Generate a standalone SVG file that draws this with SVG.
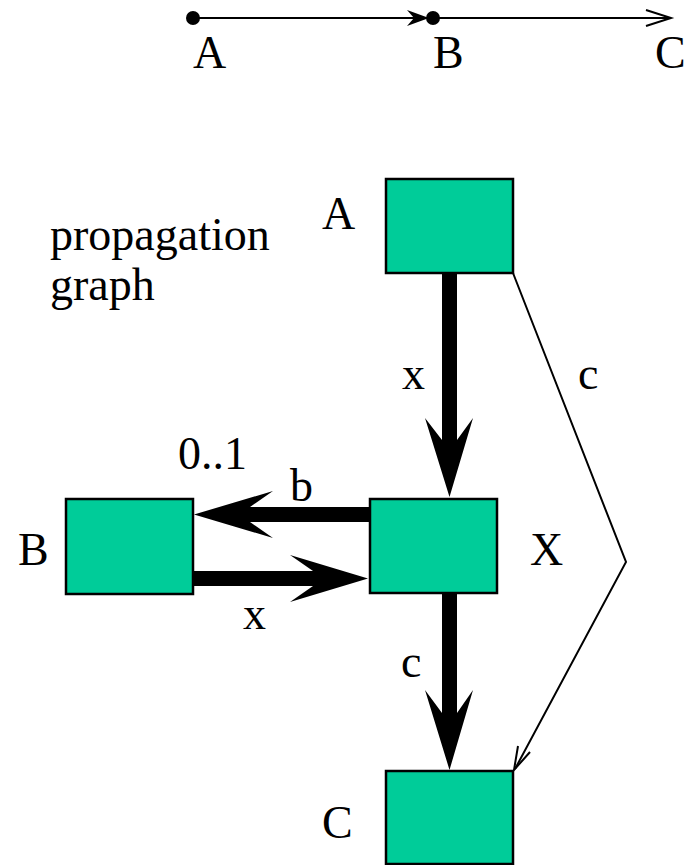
<svg xmlns="http://www.w3.org/2000/svg" width="694" height="865" viewBox="0 0 694 865">
<style>
.box{fill:#00CC99;stroke:#000;stroke-width:2.5}
.t{font-family:'Liberation Serif','Times New Roman',Times,serif;font-size:46px;fill:#000}
.thin{fill:none;stroke:#000;stroke-width:2}
.thick{fill:#000;stroke:none}
</style>
<rect width="694" height="865" fill="#fff"/>
<g id="top-line">
<line class="thin" x1="193" y1="18" x2="426" y2="18"/>
<line class="thin" x1="433" y1="18" x2="670" y2="18"/>
<path class="thick" d="M407,10 L429,18 L407,26 L414,18 Z"/>
<path class="thin" d="M646,10 L671,18 L646,26"/>
<circle cx="193" cy="18" r="7" fill="#000"/>
<circle cx="433" cy="18" r="7" fill="#000"/>
<text class="t" x="193" y="68">A</text>
<text class="t" x="433" y="68">B</text>
<text class="t" x="655" y="68">C</text>
</g>
<g id="label">
<text class="t" x="50" y="250">propagation</text>
<text class="t" x="50" y="300">graph</text>
</g>
<g id="connectors">
<path class="thick" d="M442,273 L457,273 L457,440 L473,418 L449.5,497 L425,418 L442,440 Z"/>
<path class="thick" d="M442,593 L457,593 L457,713 L473,690 L449.5,770 L425,690 L442,713 Z"/>
<path class="thick" d="M370,507 L370,522 L250,522 L273,538 L194,514.5 L273,491 L250,507 Z"/>
<path class="thick" d="M193,571 L193,586 L313,586 L290,602 L368,578.5 L290,555 L313,571 Z"/>
<polyline class="thin" points="513,273 626,562 515,769"/>
<path class="thin" d="M518,746 L514,770 L530,752"/>
<text class="t" x="402" y="389">x</text>
<text class="t" x="578" y="389">c</text>
<text class="t" x="178" y="469">0..1</text>
<text class="t" x="290" y="501">b</text>
<text class="t" x="243" y="629">x</text>
<text class="t" x="401" y="677">c</text>
</g>
<g id="node-A">
<rect class="box" x="386" y="179" width="127" height="94"/>
<text class="t" x="322" y="229">A</text>
</g>
<g id="node-X">
<rect class="box" x="370" y="499" width="127" height="94"/>
<text class="t" x="530" y="565">X</text>
</g>
<g id="node-B">
<rect class="box" x="66" y="499" width="127" height="95"/>
<text class="t" x="18" y="565">B</text>
</g>
<g id="node-C">
<rect class="box" x="386" y="771" width="127" height="93"/>
<text class="t" x="322" y="838">C</text>
</g>
</svg>
